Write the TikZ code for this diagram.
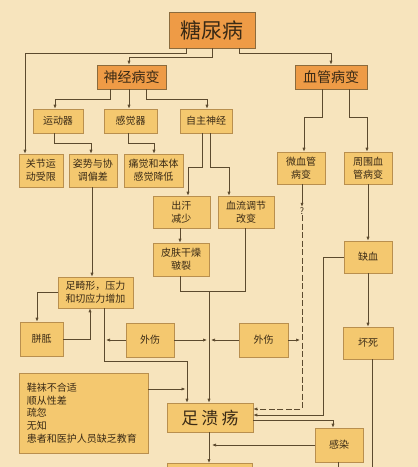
\documentclass[tikz,border=0pt]{standalone}
\usepackage{fontspec}
\newfontfamily\cjk{Noto Sans CJK SC}
\newfontfamily\cjksp[LetterSpace=18]{Noto Sans CJK SC}
\usetikzlibrary{arrows.meta,calc}
\definecolor{bgc}{HTML}{F7E4BD}
\definecolor{boxfill}{HTML}{F4C86F}
\definecolor{boxline}{HTML}{B98F4E}
\definecolor{topfill}{HTML}{EE9B46}
\definecolor{topline}{HTML}{8B6B3D}
\definecolor{lnk}{HTML}{5C4A2E}
\definecolor{txt}{HTML}{3A2A15}
\begin{document}
\begin{tikzpicture}[x=1pt,y=-1pt,
  box/.style={draw=boxline, fill=boxfill, line width=0.6pt, inner sep=0pt, align=center, text=txt, font=\cjk\fontsize{10}{13}\selectfont},
  topbox/.style={box, fill=topfill, draw=topline, line width=0.7pt},
  link/.style={draw=lnk, line width=0.7pt},
  arr/.style={link, -{Latex[length=4pt,width=3.2pt]}},
  dlink/.style={arr, dash pattern=on 6pt off 2.5pt},
]
\useasboundingbox (0,0) rectangle (418,467);
\clip (0,0) rectangle (418,467);
\fill[bgc] (0,0) rectangle (418,467);

% top level
\node[topbox, minimum width=86pt, minimum height=36pt, font=\cjk\fontsize{21}{24}\selectfont] (dm) at (212,30) {糖尿病};
\node[topbox, minimum width=69pt, minimum height=24pt, font=\cjk\fontsize{14}{16}\selectfont] (sj) at (131.5,77) {神经病变};
\node[topbox, minimum width=72pt, minimum height=24pt, font=\cjk\fontsize{14}{16}\selectfont] (xg) at (331,77) {血管病变};

% level 3
\node[box, minimum width=50pt, minimum height=24pt] (ydq) at (58,121) {运动器};
\node[box, minimum width=53pt, minimum height=24pt] (gjq) at (130.5,121) {感觉器};
\node[box, minimum width=52pt, minimum height=24pt] (zzsj) at (206,121) {自主神经};

% level 4
\node[box, minimum width=44pt, minimum height=33pt] (gj) at (41,170.5) {关节运\\动受限};
\node[box, minimum width=48pt, minimum height=33pt] (zs) at (93,170.5) {姿势与协\\调偏差};
\node[box, minimum width=59pt, minimum height=33pt] (tj) at (153.5,170.5) {痛觉和本体\\感觉降低};
\node[box, minimum width=48pt, minimum height=32pt] (wxg) at (301,168) {微血管\\病变};
\node[box, minimum width=48pt, minimum height=32pt] (zwxg) at (368,168) {周围血\\管病变};

\node[box, minimum width=57pt, minimum height=32pt] (ch) at (181.5,212) {出汗\\减少};
\node[box, minimum width=56pt, minimum height=32pt] (xl) at (246,212) {血流调节\\改变};
\node[box, minimum width=56pt, minimum height=33pt] (pf) at (181,259.5) {皮肤干燥\\皲裂};
\node[box, minimum width=48pt, minimum height=32pt] (qx) at (368,257) {缺血};

\node[box, minimum width=75pt, minimum height=31pt] (zj) at (95.5,292.5) {足畸形，压力\\和切应力增加};
\node[box, minimum width=43pt, minimum height=34pt] (pz) at (41.5,339) {胼胝};
\node[box, minimum width=48pt, minimum height=34pt] (ws1) at (150,340) {外伤};
\node[box, minimum width=49pt, minimum height=34pt] (ws2) at (263.5,340) {外伤};
\node[box, minimum width=50pt, minimum height=32pt] (hs) at (368,343) {坏死};

\node[box, minimum width=129pt, minimum height=80pt, text width=113pt, inner xsep=8pt, align=left, font=\cjk\fontsize{10}{12.6}\selectfont] (xw) at (83.5,413) {鞋袜不合适\\顺从性差\\疏忽\\无知\\患者和医护人员缺乏教育};
\node[box, minimum width=86pt, minimum height=29pt, font=\cjksp\fontsize{17}{20}\selectfont] (zk) at (210,417.5) {足溃疡};
\node[box, minimum width=48pt, minimum height=34pt] (gr) at (339,445) {感染};
\node[box, minimum width=85pt, minimum height=40pt, anchor=north] (bb) at (209.5,463) {};

\node[inner sep=0.5pt, text=txt, font=\cjk\fontsize{9}{10}\selectfont] (q) at (302,211) {?};

% helper coordinates
\coordinate (vm) at ([xshift=-1pt]zk.north);
\coordinate (vl) at ([xshift=-23pt]zk.north);
\coordinate (zjb) at ([xshift=8.5pt]zj.south);

% connectors from top
\draw[arr] ([xshift=-26pt]dm.south) -- ++(0,5) -| ([xshift=-16pt]gj.north);
\draw[arr] (dm.south) -- ++(0,9) -| ([xshift=-2.5pt]sj.north);
\draw[arr] ([xshift=27pt]dm.south) -- ++(0,5) -| (xg.north);

\draw[arr] ([xshift=-21.5pt]sj.south) -- ++(0,10) -| ([xshift=-3pt]ydq.north);
\draw[arr] ([xshift=-2.5pt]sj.south) -- ([xshift=-1.5pt]gjq.north);
\draw[arr] ([xshift=14.5pt]sj.south) -- ++(0,10) -| ([xshift=1pt]zzsj.north);

\draw[arr] ([xshift=-4pt]ydq.south) -- ++(0,10) -| ([xshift=-2pt]zs.north);
\draw[arr] ([xshift=-2.5pt]gjq.south) -- ++(0,10) -| ([xshift=0.5pt]tj.north);
\draw[arr] ([xshift=-4pt]zzsj.south) -- ++(0,34) -| ([xshift=6.5pt]ch.north);
\draw[arr] ([xshift=4pt]zzsj.south) -- ++(0,34) -| ([xshift=-17pt]xl.north);

\draw[arr] ([xshift=-9pt]xg.south) -- ++(0,28) -| ([xshift=3pt]wxg.north);
\draw[arr] ([xshift=18pt]xg.south) -- ++(0,28) -| ([xshift=-1pt]zwxg.north);
\draw[arr] (zwxg.south) -- (qx.north);
\draw[arr] (qx.south) -- (hs.north);

\draw[arr] ([xshift=-1pt]zs.south) -- ([xshift=-3.5pt]zj.north);
\draw[arr] ([xshift=-1.5pt]ch.south) -- ([xshift=-1pt]pf.north);

% merge to foot ulcer
\draw[link] ([xshift=-1pt]pf.south) -- ++(0,15) coordinate (jn) -| ([xshift=-1pt]xl.south);
\draw[arr] (vm |- jn) -- (vm);

\draw[arr] (zj.west) -| ([xshift=-4.5pt]pz.north);
\draw[arr] (pz.east) -| ([xshift=-5.5pt]zj.south);
\draw[arr] (zjb) -- ++(0,53) -| (vl);

\draw[arr] (ws1.west) -- ($(zjb |- ws1.west)+(2,0)$);
\draw[arr] (ws1.east) -- ($(vm |- ws1.east)+(-2,0)$);
\draw[arr] (ws2.west) -- ($(vm |- ws2.west)+(2,0)$);
\draw[arr] (ws2.east) -- ($(q |- ws2.east)+(-2,0)$);

\draw[arr] ([yshift=24pt]xw.east) -- ($(vl |- xw.east)+(-1.5,-24)$);

\draw[arr] ([xshift=1pt]wxg.south) -- (q.north);
\draw[dlink] (q.south) |- ([yshift=8.5pt]zk.east);
\draw[arr] (qx.west) -- ++(-20,0) |- ([yshift=2.5pt]zk.east);
\draw[arr] ([yshift=-2.5pt]zk.east) -| ([xshift=-6pt]gr.north);
\draw[arr] (gr.west) -- ($(vm |- gr.west)+(3,0)$);
\draw[arr] (vm |- zk.south) -- (vm |- bb.north);
\draw[link] ([xshift=4pt]hs.south) -- ++(0,150);
\draw[link] ([xshift=-1pt]gr.south) -- ++(0,30);
\end{tikzpicture}
\end{document}
